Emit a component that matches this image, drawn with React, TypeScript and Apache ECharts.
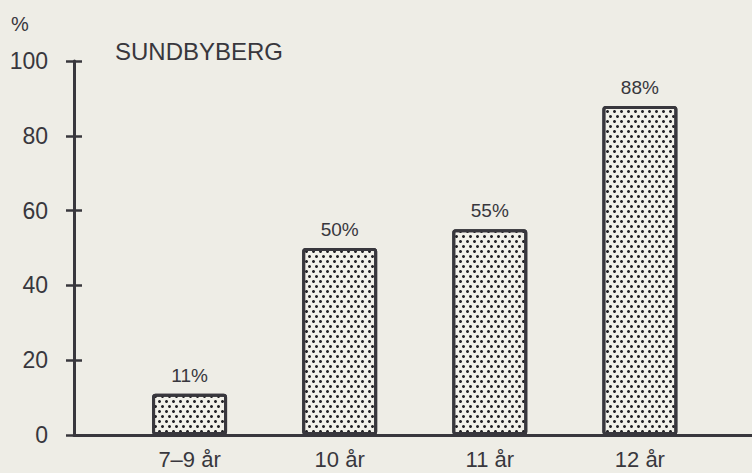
import React, { useEffect, useRef } from "react";
import * as echarts from "echarts";

const categories = ["7–9 år", "10 år", "11 år", "12 år"];
const values = [11, 50, 55, 88];
const yTicks = [0, 20, 40, 60, 80, 100];
const title = "SUNDBYBERG";
const unit = "%";

const INK = "#38373d";
const PAPER = "#eeede6";
const FONT = "'Liberation Sans', Arial, sans-serif";

export default function App() {
  const ref = useRef<HTMLDivElement>(null);
  useEffect(() => {
    if (!ref.current) return;
    const chart = echarts.init(ref.current, undefined, { renderer: "svg" });
    const barData = values.map((v, i) => [i, v]);
    const tickStyle = { show: true, inside: false, length: 8, lineStyle: { color: INK, width: 2.5 } };
    chart.setOption({
      animation: false,
      backgroundColor: PAPER,
      textStyle: { fontFamily: FONT, color: INK },
      title: [
        { text: unit, left: 11, top: 14, padding: 0, textStyle: { fontFamily: FONT, fontSize: 20, fontWeight: "normal", color: INK } },
        { text: title, left: 115, top: 39, padding: 0, textStyle: { fontFamily: FONT, fontSize: 24, fontWeight: "normal", color: INK } },
      ],
      grid: [
        { left: 74, right: 0, top: 61, bottom: 38, containLabel: false },
        { left: 82, right: 0, top: 61, bottom: 38, containLabel: false },
      ],
      xAxis: [
        {
          type: "value",
          gridIndex: 0,
          min: -0.77,
          max: 3.747,
          splitLine: { show: false },
          axisTick: { show: false },
          axisLine: { show: true, onZero: false, lineStyle: { color: INK, width: 3 } },
          axisLabel: {
            customValues: categories.map((_, i) => i),
            formatter: (v: number) => categories[Math.round(v)] ?? "",
            fontFamily: FONT,
            fontSize: 22,
            color: INK,
            margin: 13,
          },
        },
        {
          type: "value",
          gridIndex: 1,
          min: -0.77,
          max: 3.747,
          show: false,
        },
      ],
      yAxis: [
        {
          type: "value",
          gridIndex: 0,
          min: 0,
          max: 100,
          interval: 20,
          splitLine: { show: false },
          axisLine: { show: true, onZero: false, lineStyle: { color: INK, width: 3 } },
          axisTick: tickStyle,
          axisLabel: {
            customValues: yTicks,
            fontFamily: FONT,
            fontSize: 23,
            color: INK,
            margin: 26,
          },
        },
        {
          type: "value",
          gridIndex: 1,
          min: 0,
          max: 100,
          interval: 20,
          splitLine: { show: false },
          axisLine: { show: true, onZero: false, lineStyle: { color: INK, width: 0, opacity: 0 } },
          axisTick: tickStyle,
          axisLabel: { show: false },
        },
      ],
      series: [
        {
          type: "bar",
          xAxisIndex: 0,
          yAxisIndex: 0,
          barWidth: 75,
          data: barData,
          itemStyle: {
            color: "#f2f1ea",
            borderColor: INK,
            borderWidth: 3,
            borderRadius: 2,
            decal: {
              symbol: "circle",
              symbolSize: 1,
              color: "#222126",
              dashArrayX: [[3, 4], [0, 4, 3, 0]],
              dashArrayY: [3, 2],
            },
          },
          label: {
            show: true,
            position: "top",
            distance: 9,
            fontFamily: FONT,
            fontSize: 19,
            color: INK,
            formatter: (p: any) => `${p.value[1]}%`,
          },
        },
        {
          type: "line",
          xAxisIndex: 1,
          yAxisIndex: 1,
          data: barData,
          showSymbol: false,
          silent: true,
          lineStyle: { opacity: 0, width: 0 },
          label: { show: false },
        },
      ],
    });
    return () => chart.dispose();
  }, []);
  return (
    <div
      ref={ref}
      style={{ position: "fixed", left: 0, top: 0, width: 752, height: 473 }}
    />
  );
}
